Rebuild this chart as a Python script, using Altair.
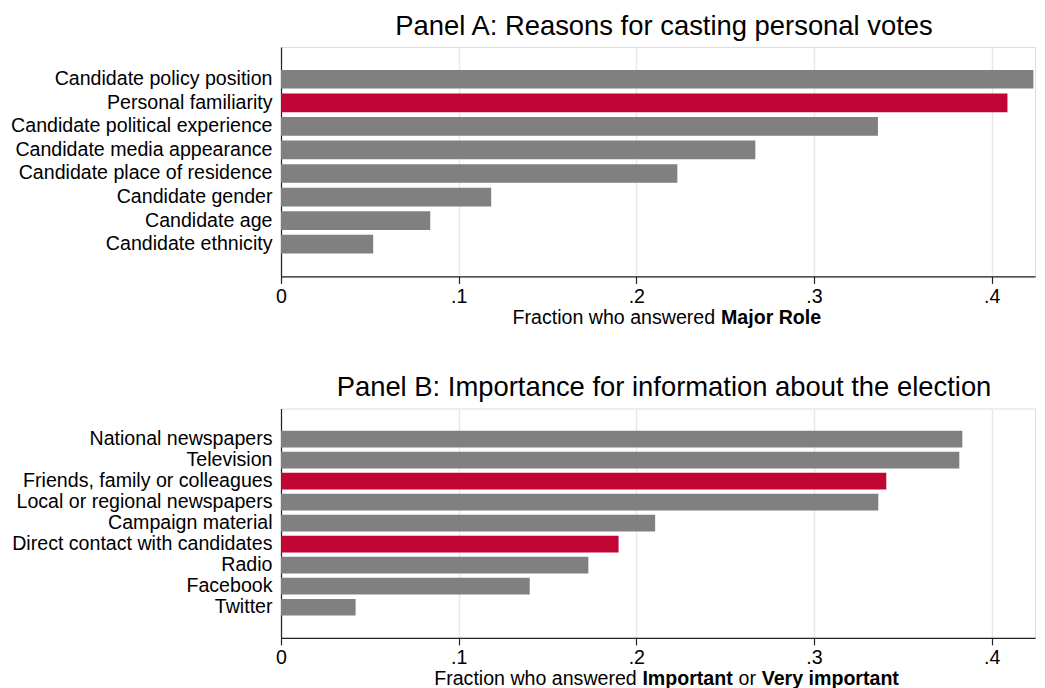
import altair as alt
import pandas as pd

# ---------------- data ----------------
labels_a = [
    "Candidate policy position",
    "Personal familiarity",
    "Candidate political experience",
    "Candidate media appearance",
    "Candidate place of residence",
    "Candidate gender",
    "Candidate age",
    "Candidate ethnicity",
]
values_a = [0.4235, 0.4089, 0.336, 0.267, 0.2231, 0.1183, 0.084, 0.0519]
highlight_a = ["Personal familiarity"]

labels_b = [
    "National newspapers",
    "Television",
    "Friends, family or colleagues",
    "Local or regional newspapers",
    "Campaign material",
    "Direct contact with candidates",
    "Radio",
    "Facebook",
    "Twitter",
]
values_b = [0.3835, 0.3818, 0.3407, 0.3362, 0.2106, 0.190, 0.173, 0.140, 0.042]
highlight_b = ["Friends, family or colleagues", "Direct contact with candidates"]

tick_values = [0, 0.1, 0.2, 0.3, 0.4]

title_a = "Panel A: Reasons for casting personal votes"
title_b = "Panel B: Importance for information about the election"
xtitle_a = [("Fraction who answered", "normal"), ("Major Role", "bold")]
xtitle_b = [("Fraction who answered", "normal"), ("Important", "bold"),
            ("or", "normal"), ("Very important", "bold")]

# ---------------- style ----------------
FONT = "Liberation Sans"
GRAY = "#808080"
RED = "#C10534"
W = 754
H = 229.4
XMAX = 0.4244
LABEL_FS = 19.6
TITLE_FS = 27.4


def panel(labels, values, highlight, title, xtitle_parts, xtitle_pos, xtitle_y,
          pad_inner, pad_outer, bar_size):
    df = pd.DataFrame({"label": labels, "value": values})
    bars = alt.Chart(df).mark_bar(size=bar_size).encode(
        x=alt.X(
            "value:Q",
            scale=alt.Scale(domain=[0, XMAX], nice=False, zero=True),
            axis=alt.Axis(
                values=tick_values,
                title=None,
                labelExpr="datum.value == 0 ? '0' : replace(format(datum.value, '.1f'), '0.', '.')",
                grid=True,
                gridColor="#E8E8E8",
                gridWidth=1.5,
                domainColor="#222222",
                domainWidth=1.2,
                tickColor="#222222",
                tickWidth=1.2,
                tickSize=7,
                labelPadding=4,
                labelFontSize=LABEL_FS,
                labelFont=FONT,
                labelColor="black",
                labelFlush=False,
            ),
        ),
        y=alt.Y(
            "label:N",
            sort=labels,
            scale=alt.Scale(paddingInner=pad_inner, paddingOuter=pad_outer),
            axis=alt.Axis(
                title=None,
                ticks=False,
                tickSize=0,
                grid=False,
                domainColor="#222222",
                domainWidth=1.2,
                labelPadding=9,
                labelFontSize=LABEL_FS,
                labelFont=FONT,
                labelColor="black",
                labelLimit=400,
            ),
        ),
        color=alt.condition(
            alt.FieldOneOfPredicate(field="label", oneOf=highlight),
            alt.value(RED),
            alt.value(GRAY),
        ),
    )
    layers = [bars]
    for (txt, weight), xp in zip(xtitle_parts, xtitle_pos):
        layers.append(
            alt.Chart(alt.Data(values=[{}])).mark_text(
                text=txt,
                font=FONT,
                fontSize=LABEL_FS,
                fontWeight=weight,
                align="left",
                baseline="alphabetic",
                color="black",
            ).encode(x=alt.value(xp), y=alt.value(xtitle_y))
        )
    return alt.layer(*layers).properties(
        width=W,
        height=H,
        title=alt.TitleParams(
            text=title,
            font=FONT,
            fontSize=TITLE_FS,
            fontWeight="normal",
            color="black",
            anchor="middle",
            frame="group",
            offset=7,
            dx=6,
        ),
    )


pa = panel(labels_a, values_a, highlight_a, title_a, xtitle_a,
           [231.6, 440.0], 276.7, 0.2, 0.97, 18.7)
pb = panel(labels_b, values_b, highlight_b, title_b, xtitle_b,
           [153.2, 361.4, 457.5, 480.7], 276.0, 0.08, 1.0, 16.7)

chart = alt.vconcat(pa, pb, spacing=131.5, bounds="flush").properties(
    padding={"left": 2, "top": 4, "right": 0, "bottom": 0}
).configure_view(stroke=None).configure(background="white")

chart.save("out.html", embed_options={"renderer": "svg", "actions": False})
